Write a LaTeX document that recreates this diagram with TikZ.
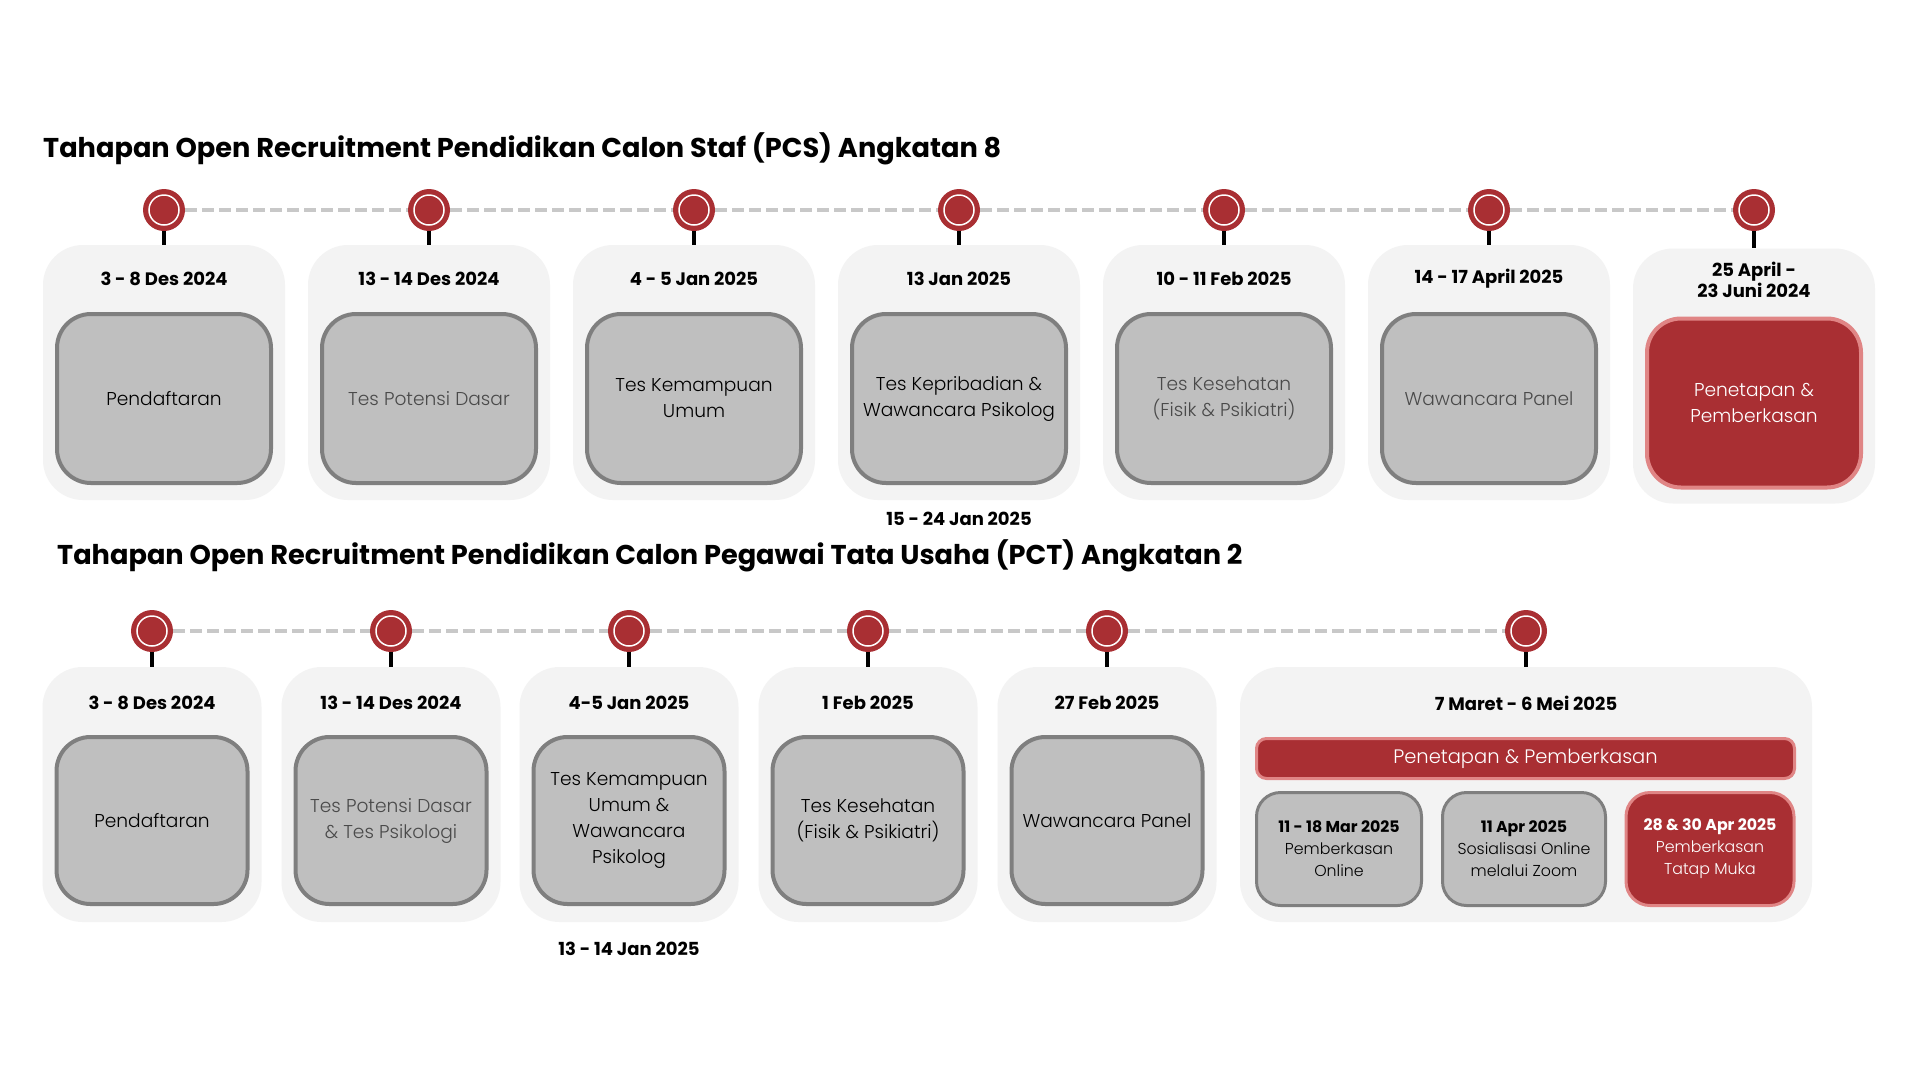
\documentclass[tikz,border=0pt]{standalone}
\usepackage{fontspec}
\setmainfont{Poppins}
\newfontfamily\lightfam{Poppins Light}
\usetikzlibrary{positioning}

\definecolor{pinred}{HTML}{A92F33}
\definecolor{redline}{HTML}{E08585}
\definecolor{panelbg}{HTML}{F3F3F3}
\definecolor{boxfill}{HTML}{BFBFBF}
\definecolor{boxline}{HTML}{7F7F7F}
\definecolor{dashgrey}{HTML}{C8C8C8}
\definecolor{softtext}{HTML}{4A4A4A}

\newcommand\ttlfnt{\fontsize{27.2}{32}\selectfont\bfseries}
\newcommand\datefnt{\fontsize{18}{21}\selectfont\bfseries}
\newcommand\boxfnt{\fontsize{18.6}{26}\selectfont\lightfam}
\newcommand\barfnt{\fontsize{19.5}{26}\selectfont\lightfam}
\newcommand\subfnt{\fontsize{15.8}{22}\selectfont\lightfam}

\tikzset{
  panel/.style={fill=panelbg, rounded corners=40pt, inner sep=0pt},
  stepbox/.style={draw=boxline, fill=boxfill, line width=4pt, rounded corners=34pt,
    align=center, font=\boxfnt, inner sep=0pt},
  redbox/.style={stepbox, draw=redline, fill=pinred, text=white},
  datelbl/.style={font=\datefnt, align=center, inner sep=0pt},
  ttl/.style={font=\ttlfnt, anchor=west, inner sep=0pt},
  pinhead/.style={circle, fill=pinred, minimum size=42pt, inner sep=0pt,
    path picture={\draw[white, line width=1.5pt] (path picture bounding box.center) circle (15pt);}},
  stem/.style={line width=3.5pt, black},
  dashline/.style={dashgrey, line width=4pt, dash pattern=on 12pt off 5pt},
}

\begin{document}
\begin{tikzpicture}[x=1pt, y=-1pt]
  \useasboundingbox[fill=white] (0,0) rectangle (1920,1080);

  % PCS Angkatan 8
  \node[ttl] (ta) at (43,149) {Tahapan Open Recruitment Pendidikan Calon Staf (PCS) Angkatan 8};
  \foreach \x/\d/\s/\c [count=\i] in {
      164/{3 - 8 Des 2024}/{Pendaftaran}/black,
      429/{13 - 14 Des 2024}/{Tes Potensi Dasar}/softtext,
      694/{4 - 5 Jan 2025}/{Tes Kemampuan\\Umum}/black,
      959/{13 Jan 2025}/{Tes Kepribadian \&\\Wawancara Psikolog}/black,
      1224/{10 - 11 Feb 2025}/{Tes Kesehatan\\(Fisik \& Psikiatri)}/softtext,
      1489/{14 - 17 April 2025}/{Wawancara Panel}/softtext} {
    \node[panel, minimum width=242pt, minimum height=255pt] (pa\i) at (\x,372.5) {};
    \node[datelbl] (da\i) at (\x,279) {\d};
    \node[stepbox, minimum width=214pt, minimum height=169pt, text=\c] (sa\i) at (\x,398.5) {\s};
    \node[pinhead] (qa\i) at (\x,210) {};
    \draw[stem] (qa\i) -- (pa\i.north);
  }
  \node[panel, minimum width=242pt, minimum height=255pt] (pa7) at (1754,376) {};
  \node[datelbl] (da7) at (1754,280) {25 April -\\23 Juni 2024};
  \node[redbox, minimum width=214pt, minimum height=169pt] (sa7) at (1754,403) {Penetapan \&\\Pemberkasan};
  \node[pinhead] (qa7) at (1754,210) {};
  \draw[stem] (qa7) -- (pa7.north);
  \foreach \i/\j in {1/2,2/3,3/4,4/5,5/6,6/7}
    \draw[dashline] (qa\i.east) -- (qa\j.west);
  \node[datelbl, below=12pt of pa4] (db4) {15 - 24 Jan 2025};

  % PCT Angkatan 2
  \node[ttl] (tb) at (57,556) {Tahapan Open Recruitment Pendidikan Calon Pegawai Tata Usaha (PCT) Angkatan 2};
  \foreach \x/\d/\s/\c [count=\i] in {
      152/{3 - 8 Des 2024}/{Pendaftaran}/black,
      391/{13 - 14 Des 2024}/{Tes Potensi Dasar\\\& Tes Psikologi}/softtext,
      629/{4-5 Jan 2025}/{Tes Kemampuan\\Umum \&\\Wawancara\\Psikolog}/black,
      868/{1 Feb 2025}/{Tes Kesehatan\\(Fisik \& Psikiatri)}/black,
      1107/{27 Feb 2025}/{Wawancara Panel}/black} {
    \node[panel, minimum width=219pt, minimum height=255pt] (pb\i) at (\x,794.5) {};
    \node[datelbl] (db\i) at (\x,703) {\d};
    \node[stepbox, minimum width=191pt, minimum height=167pt, text=\c] (sb\i) at (\x,820.5) {\s};
    \node[pinhead] (qb\i) at (\x,631) {};
    \draw[stem] (qb\i) -- (pb\i.north);
  }
  \node[panel, minimum width=572pt, minimum height=255pt] (pb6) at (1526,794.5) {};
  \node[datelbl] (db6) at (1526,703) {7 Maret - 6 Mei 2025};
  \node[redbox, font=\barfnt, rounded corners=10pt, line width=3pt, minimum width=538pt, minimum height=40pt] (bar) at (1525.5,758.5) {Penetapan \& Pemberkasan};
  \node[stepbox, font=\subfnt, line width=3pt, rounded corners=24pt, minimum width=165pt, minimum height=113pt] (u1) at (1339,849) {{\bfseries\rmfamily 11 - 18 Mar 2025}\\Pemberkasan\\Online};
  \node[stepbox, font=\subfnt, line width=3pt, rounded corners=24pt, minimum width=163pt, minimum height=113pt] (u2) at (1524,849) {{\bfseries\rmfamily 11 Apr 2025}\\Sosialisasi Online\\melalui Zoom};
  \node[redbox, font=\subfnt, line width=3pt, rounded corners=24pt, minimum width=168pt, minimum height=113pt] (u3) at (1710,849) {{\bfseries\rmfamily 28 \& 30 Apr 2025}\\Pemberkasan\\Tatap Muka};
  \node[pinhead] (qb6) at (1526,631) {};
  \draw[stem] (qb6) -- (pb6.north);
  \foreach \i/\j in {1/2,2/3,3/4,4/5,5/6}
    \draw[dashline] (qb\i.east) -- (qb\j.west);
  \node[datelbl, below=20pt of pb3] (dc3) {13 - 14 Jan 2025};
\end{tikzpicture}
\end{document}
